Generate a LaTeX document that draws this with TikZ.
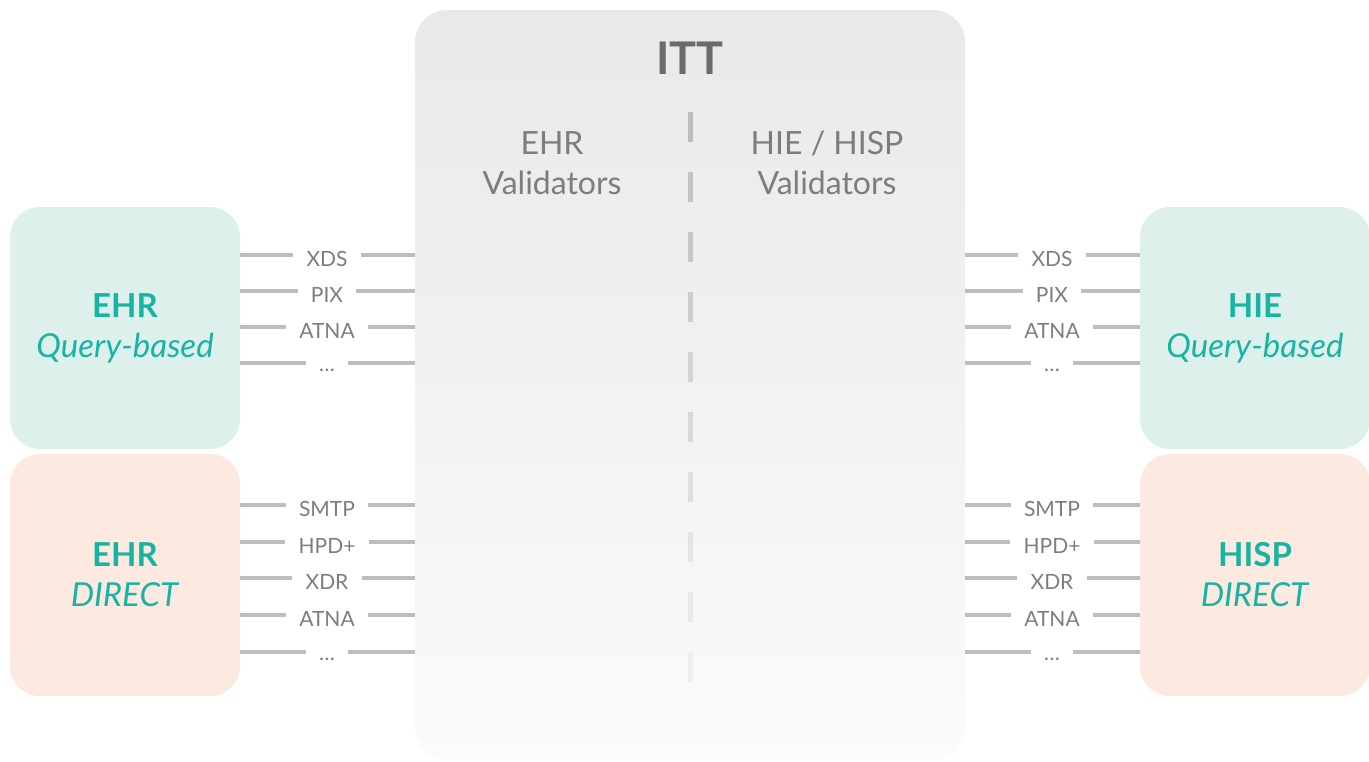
\documentclass[tikz,border=0pt]{standalone}
\usepackage{fontspec}
\setmainfont{Lato}
\definecolor{tealtext}{HTML}{17B3A3}
\definecolor{tealfill}{HTML}{DDF0EC}
\definecolor{peachfill}{HTML}{FCE9E0}
\definecolor{itttop}{HTML}{EAE8E9}
\definecolor{ittbottom}{HTML}{FBFBFB}
\definecolor{labelgray}{HTML}{7D7D7D}
\definecolor{titlegray}{HTML}{6B6B6B}
\definecolor{wiregray}{HTML}{BDBDBD}
\definecolor{dashgray}{HTML}{BCBCBC}
\tikzset{
  ittbox/.style={rounded corners=32pt, top color=itttop, bottom color=ittbottom,
    minimum width=550pt, minimum height=750pt, inner sep=0pt},
  sysbox/.style={rounded corners=30pt, minimum width=230pt, minimum height=242pt,
    inner sep=0pt, text=tealtext, align=center, font=\fontsize{33}{40}\selectfont},
  querybox/.style={sysbox, fill=tealfill},
  directbox/.style={sysbox, fill=peachfill},
  proto/.style={text=labelgray, font=\fontsize{21}{24}\selectfont, inner xsep=13pt,
    inner ysep=0pt, text height=15pt, text depth=0pt},
  wire/.style={draw=wiregray, line width=4pt},
  heading/.style={text=labelgray, align=center, font=\fontsize{32}{40}\selectfont},
}
\begin{document}
\begin{tikzpicture}[x=1pt,y=-1pt]
\useasboundingbox (0,0) rectangle (1369,761);

% central testing tool
\node[ittbox] (itt) at (690,385) {};
\node[text=titlegray, font=\fontsize{45}{50}\selectfont\bfseries] (title) at (690,58) {ITT};
\node[heading] (ehrval) at (552,163) {EHR\\Validators};
\node[heading] (hieval) at (827,163) {HIE / HISP\\Validators};

% fading divider
\foreach \i in {0,...,9} {
  \pgfmathtruncatemacro{\p}{100-9*\i}
  \draw[line width=5pt, draw=dashgray!\p!ittbottom] (690,112+60*\i) -- (690,142+60*\i);
}

% systems under test
\node[querybox] (ehrq) at (125,328) {\textbf{EHR}\\\textit{Query-based}};
\node[directbox] (ehrd) at (125,575) {\textbf{EHR}\\\textit{DIRECT}};
\node[querybox] (hieq) at (1255,328) {\textbf{HIE}\\\textit{Query-based}};
\node[directbox] (hisp) at (1255,575) {\textbf{HISP}\\\textit{DIRECT}};

% query-based protocols
\foreach \y/\t/\n in {255/XDS/1, 291/PIX/2, 327/ATNA/3, 363/{\raisebox{3pt}{\dots}}/4} {
  \node[proto] (lq\n) at (327,\y+4) {\t};
  \draw[wire] (ehrq.east |- 0,\y) -- ([yshift=4pt]lq\n.west);
  \draw[wire] ([yshift=4pt]lq\n.east) -- (itt.west |- 0,\y);
  \node[proto] (rq\n) at (1052,\y+4) {\t};
  \draw[wire] (itt.east |- 0,\y) -- ([yshift=4pt]rq\n.west);
  \draw[wire] ([yshift=4pt]rq\n.east) -- (hieq.west |- 0,\y);
}

% direct protocols
\foreach \y/\t/\n in {505/SMTP/1, 542/HPD+/2, 578/XDR/3, 615/ATNA/4, 652/{\raisebox{3pt}{\dots}}/5} {
  \node[proto] (ld\n) at (327,\y+4) {\t};
  \draw[wire] (ehrd.east |- 0,\y) -- ([yshift=4pt]ld\n.west);
  \draw[wire] ([yshift=4pt]ld\n.east) -- (itt.west |- 0,\y);
  \node[proto] (rd\n) at (1052,\y+4) {\t};
  \draw[wire] (itt.east |- 0,\y) -- ([yshift=4pt]rd\n.west);
  \draw[wire] ([yshift=4pt]rd\n.east) -- (hisp.west |- 0,\y);
}
\end{tikzpicture}
\end{document}
